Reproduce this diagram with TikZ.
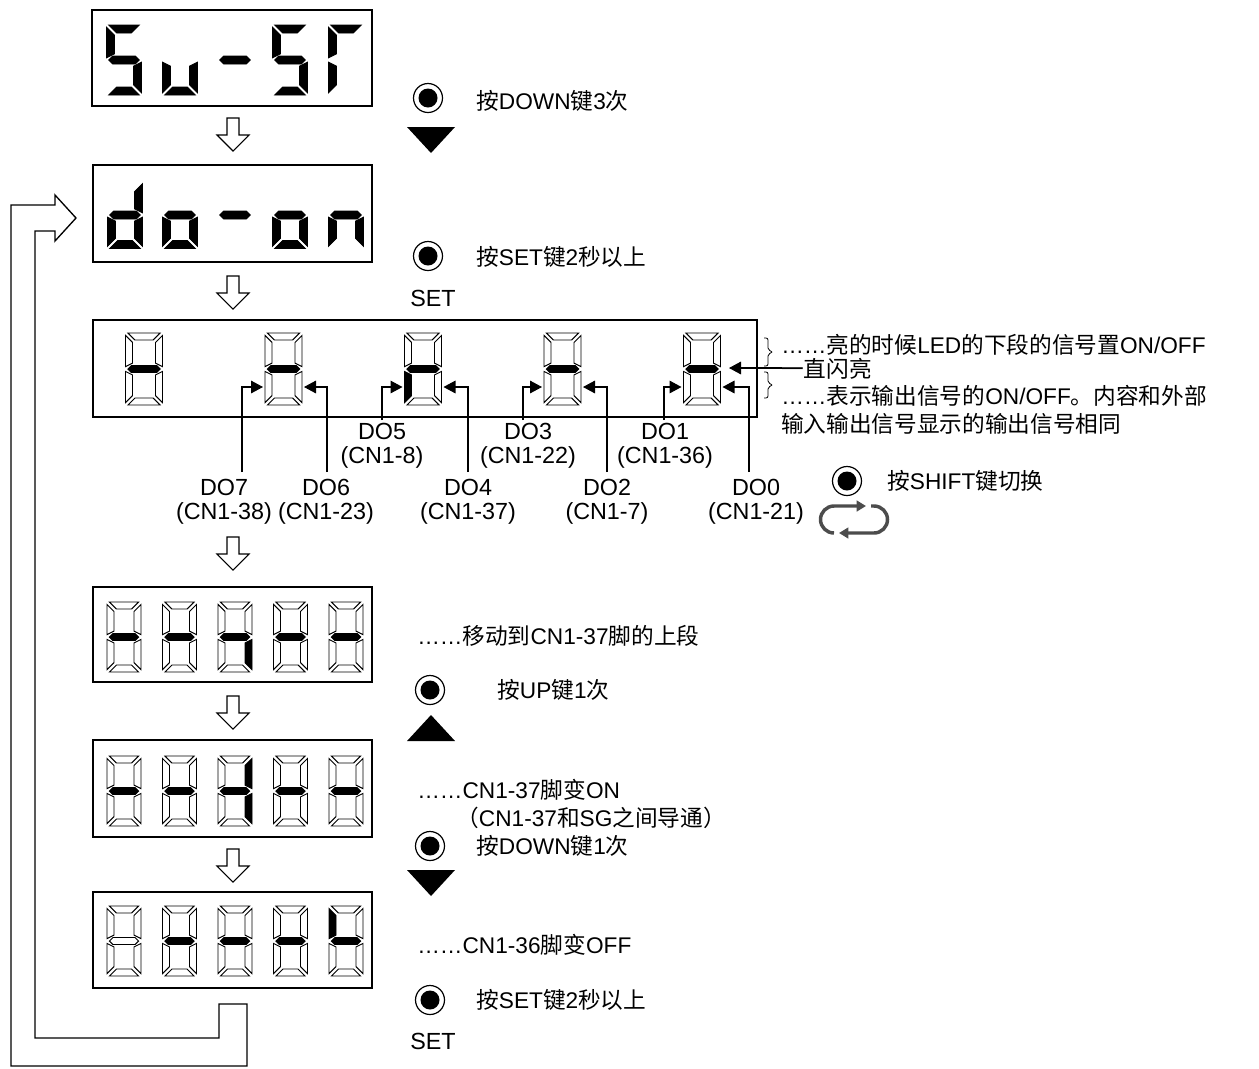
\documentclass[tikz,border=0pt]{standalone}
\usepackage{fontspec}
\setmainfont{Liberation Sans}
\newfontfamily\cjk{Noto Sans CJK SC}
\usetikzlibrary{arrows.meta}
\newcommand\zh[1]{{\cjk #1}}
\def\dw{35}\def\dh{70}\def\dt{8}\def\dgap{2}
\newcommand\sdigit[9]{%
\begin{scope}[shift={(#1,#2)}]
\pgfmathsetmacro\dgA{\dw/2}%
\pgfmathsetmacro\dgB{\dh/2}%
\pgfmathsetmacro\dgT{\dt}%
\pgfmathsetmacro\dgH{\dt/2}%
\pgfmathsetmacro\dgG{\dgap}%
\path[st#3] (-\dgA+\dgG,-\dgB) -- (\dgA-\dgG,-\dgB) -- (\dgA-\dgT-\dgG,-\dgB+\dgT) -- (-\dgA+\dgT+\dgG,-\dgB+\dgT) -- cycle;
\path[st#4] (\dgA,-\dgB+\dgG) -- (\dgA,-\dgG) -- (\dgA-\dgT,-\dgH-\dgG) -- (\dgA-\dgT,-\dgB+\dgT+\dgG) -- cycle;
\path[st#5] (\dgA,\dgG) -- (\dgA,\dgB-\dgG) -- (\dgA-\dgT,\dgB-\dgT-\dgG) -- (\dgA-\dgT,\dgH+\dgG) -- cycle;
\path[st#6] (-\dgA+\dgG,\dgB) -- (\dgA-\dgG,\dgB) -- (\dgA-\dgT-\dgG,\dgB-\dgT) -- (-\dgA+\dgT+\dgG,\dgB-\dgT) -- cycle;
\path[st#7] (-\dgA,\dgG) -- (-\dgA,\dgB-\dgG) -- (-\dgA+\dgT,\dgB-\dgT-\dgG) -- (-\dgA+\dgT,\dgH+\dgG) -- cycle;
\path[st#8] (-\dgA,-\dgB+\dgG) -- (-\dgA,-\dgG) -- (-\dgA+\dgT,-\dgH-\dgG) -- (-\dgA+\dgT,-\dgB+\dgT+\dgG) -- cycle;
\path[st#9] (-\dgA+\dgG,0) -- (-\dgA+\dgH+\dgG,-\dgH) -- (\dgA-\dgH-\dgG,-\dgH) -- (\dgA-\dgG,0) -- (\dgA-\dgH-\dgG,\dgH) -- (-\dgA+\dgH+\dgG,\dgH) -- cycle;
\end{scope}}
\newcommand\harrow[2]{%
\draw[hollow] (#1-6,#2) -- (#1+6,#2) -- (#1+6,#2+17) -- (#1+16,#2+17) -- (#1,#2+33) -- (#1-16,#2+17) -- (#1-6,#2+17) -- cycle;}
\newcommand\btn[2]{%
\draw[line width=0.9pt] (#1,#2) circle[radius=14.5];
\fill (#1,#2) circle[radius=9.5];}
\begin{document}
\begin{tikzpicture}[x=0.75pt,y=-0.75pt,
  st0/.style={},
  st1/.style={draw=black,fill=white,line width=0.7pt},
  st2/.style={draw=black,fill=black,line width=0.7pt},
  dbox/.style={draw=black,line width=1.3pt},
  hollow/.style={draw=black,line width=0.8pt,fill=white},
  ret/.style={draw=black,line width=1pt},
  sig/.style={draw=black,line width=0.8pt,-{Triangle[length=9pt,width=9.5pt]}},
  txt/.style={anchor=west,inner sep=0pt,font=\fontsize{17}{20}\selectfont},
  lab/.style={align=center,inner sep=0pt,font=\fontsize{17.5}{18}\selectfont},
  cyc/.style={draw=black!70,line width=2.6pt,-{Triangle[length=7pt,width=8pt]}}
]
\useasboundingbox (0,0) rectangle (1259,1068);

% ---- display 1: Su-SF
\draw[dbox] (92,10) rectangle (372,106);
\def\dw{35}\def\dh{70}\def\dt{8}\def\dgap{2.2}
\sdigit{124}{60}{2}{0}{2}{2}{0}{2}{2}
\sdigit{180}{60}{0}{0}{2}{2}{2}{0}{0}
\sdigit{235}{60}{0}{0}{0}{0}{0}{0}{2}
\sdigit{290}{60}{2}{0}{2}{2}{0}{2}{2}
\sdigit{346}{60}{2}{0}{0}{0}{2}{2}{0}

% ---- display 2: do-on
\draw[dbox] (93,165) rectangle (372,262);
\def\dh{67}
\sdigit{125}{215}{0}{2}{2}{2}{2}{0}{2}
\sdigit{180}{215}{0}{0}{2}{2}{2}{0}{2}
\sdigit{235}{215}{0}{0}{0}{0}{0}{0}{2}
\sdigit{290}{215}{0}{0}{2}{2}{2}{0}{2}
\sdigit{346}{215}{0}{0}{2}{0}{2}{0}{2}

% ---- display 3
\draw[dbox] (93,320) rectangle (757,417);
\def\dw{37}\def\dh{72}\def\dt{7}\def\dgap{2.4}
\sdigit{144}{369}{1}{1}{1}{1}{1}{1}{2}
\sdigit{283.5}{369}{1}{1}{1}{1}{1}{1}{2}
\sdigit{423}{369}{1}{1}{1}{1}{2}{1}{2}
\sdigit{562.5}{369}{1}{1}{1}{1}{1}{1}{2}
\sdigit{702}{369}{1}{1}{1}{1}{1}{1}{2}

% signal pointers
\coordinate (t7) at (263,387);   \coordinate (e7) at (242,472);
\coordinate (t6) at (304,387);   \coordinate (e6) at (327,472);
\coordinate (t5) at (402.5,387); \coordinate (e5) at (382,420);
\coordinate (t4) at (443.5,387); \coordinate (e4) at (468,472);
\coordinate (t3) at (542,387);   \coordinate (e3) at (523,420);
\coordinate (t2) at (583,387);   \coordinate (e2) at (607,472);
\coordinate (t1) at (681.5,387); \coordinate (e1) at (664,420);
\coordinate (t0) at (722.5,387); \coordinate (e0) at (749,472);
\draw[sig] (e7) |- (t7);
\draw[sig] (e6) |- (t6);
\draw[sig] (e5) |- (t5);
\draw[sig] (e4) |- (t4);
\draw[sig] (e3) |- (t3);
\draw[sig] (e2) |- (t2);
\draw[sig] (e1) |- (t1);
\draw[sig] (e0) |- (t0);
\coordinate (blinkS) at (782,368);
\coordinate (blinkT) at (729,368);
\draw[sig] (blinkS) -- (blinkT);

% braces
\draw[line width=0.6pt,rounded corners=1.5] (764,338) -- (768,338) -- (768,350) -- (773,352) -- (768,354) -- (768,366) -- (764,366);
\draw[line width=0.6pt,rounded corners=1.5] (764,372) -- (768,372) -- (768,383) -- (773,385) -- (768,387) -- (768,398) -- (764,398);

% brace texts
\node[txt] (n1) at (781,345) {……\zh{亮的时候}LED\zh{的下段的信号置}ON/OFF};
\node[txt] (n2) at (781,369) {\zh{一直闪亮}};
\node[txt] (n3) at (781,396) {……\zh{表示输出信号的}ON/OFF\zh{。内容和外部}};
\node[txt] (n4) at (781,424) {\zh{输入输出信号显示的输出信号相同}};

% DO labels
\node[lab] (l5) at (382,446) {DO5\\(CN1-8)};
\node[lab] (l3) at (528,446) {DO3\\(CN1-22)};
\node[lab] (l1) at (665,446) {DO1\\(CN1-36)};
\node[lab] (l7) at (224,502) {DO7\\(CN1-38)};
\node[lab] (l6) at (326,502) {DO6\\(CN1-23)};
\node[lab] (l4) at (468,502) {DO4\\(CN1-37)};
\node[lab] (l2) at (607,502) {DO2\\(CN1-7)};
\node[lab] (l0) at (756,502) {DO0\\(CN1-21)};

% ---- display 4
\draw[dbox] (93,587) rectangle (372,682);
\def\dw{34}\def\dh{70}\def\dt{7}
\sdigit{124}{637}{1}{1}{1}{1}{1}{1}{2}
\sdigit{179.5}{637}{1}{1}{1}{1}{1}{1}{2}
\sdigit{235}{637}{1}{1}{2}{1}{1}{1}{2}
\sdigit{290.5}{637}{1}{1}{1}{1}{1}{1}{2}
\sdigit{346}{637}{1}{1}{1}{1}{1}{1}{2}

% ---- display 5
\draw[dbox] (93,740) rectangle (372,837);
\sdigit{124}{791}{1}{1}{1}{1}{1}{1}{2}
\sdigit{179.5}{791}{1}{1}{1}{1}{1}{1}{2}
\sdigit{235}{791}{1}{2}{2}{1}{1}{1}{2}
\sdigit{290.5}{791}{1}{1}{1}{1}{1}{1}{2}
\sdigit{346}{791}{1}{1}{1}{1}{1}{1}{2}

% ---- display 6
\draw[dbox] (93,892) rectangle (372,988);
\sdigit{124}{941}{1}{1}{1}{1}{1}{1}{1}
\sdigit{179.5}{941}{1}{1}{1}{1}{1}{1}{2}
\sdigit{235}{941}{1}{1}{1}{1}{1}{1}{2}
\sdigit{290.5}{941}{1}{1}{1}{1}{1}{1}{2}
\sdigit{346}{941}{1}{1}{1}{1}{1}{2}{2}

% hollow step arrows
\harrow{233}{118}
\harrow{233}{276}
\harrow{233}{537}
\harrow{233}{696}
\harrow{233}{849}

% return loop
\draw[ret] (219,1004) -- (247,1004) -- (247,1066) -- (11,1066) -- (11,205) -- (55,205) -- (55,195) -- (76,218) -- (55,241) -- (55,231) -- (35,231) -- (35,1038) -- (219,1038) -- cycle;

% buttons and key hints
\btn{428}{98}
\fill (407,127) -- (455,127) -- (431,153) -- cycle;
\node[txt] (k1) at (476,101) {\zh{按}DOWN\zh{键}3\zh{次}};

\btn{428}{256}
\node[txt] (k2) at (476,257) {\zh{按}SET\zh{键}2\zh{秒以上}};
\node[lab] (s1) at (433,298) {SET};

\btn{847}{481}
\node[txt] (k3) at (887,481) {\zh{按}SHIFT\zh{键切换}};
\draw[cyc] (834,533) arc[start angle=90,end angle=270,radius=13.5] -- (866,506);
\draw[cyc] (871,506) -- (874,506) arc[start angle=270,end angle=450,radius=13.5] -- (839,533);

\node[txt] (m1) at (417,636) {……\zh{移动到}CN1-37\zh{脚的上段}};

\btn{430}{690}
\fill (407,741) -- (455,741) -- (431,715) -- cycle;
\node[txt] (k4) at (497,690) {\zh{按}UP\zh{键}1\zh{次}};

\node[txt] (m2) at (417,790) {……CN1-37\zh{脚变}ON};
\node[txt] (m3) at (456,818) {\zh{（}CN1-37\zh{和}SG\zh{之间导通）}};

\btn{430}{846}
\fill (407,870) -- (455,870) -- (431,896) -- cycle;
\node[txt] (k5) at (476,846) {\zh{按}DOWN\zh{键}1\zh{次}};

\node[txt] (m4) at (417,945) {……CN1-36\zh{脚变}OFF};

\btn{430}{1000}
\node[txt] (k6) at (476,1000) {\zh{按}SET\zh{键}2\zh{秒以上}};
\node[lab] (s2) at (433,1041) {SET};
\end{tikzpicture}
\end{document}
